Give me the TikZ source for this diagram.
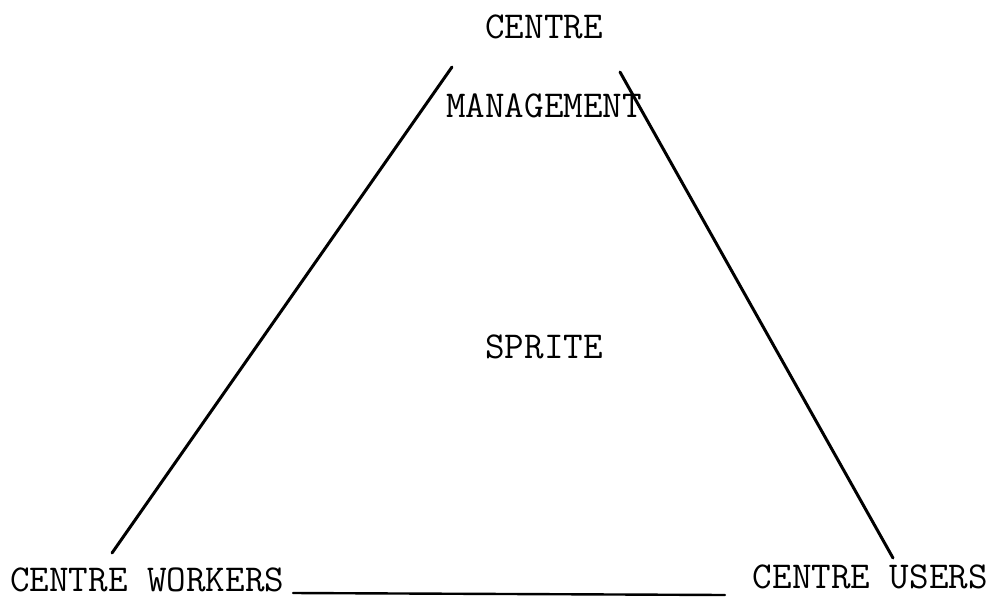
\documentclass[tikz,border=0pt]{standalone}
\usepackage{fontspec}
\begin{document}
\begin{tikzpicture}[x=1pt,y=-1pt,
  lbl/.style={font=\ttfamily\fontsize{38}{44}\selectfont, inner sep=0pt, anchor=center},
  edge/.style={line width=3pt, line cap=round}]
\useasboundingbox (0,0) rectangle (993,606);
\node[lbl] (top) at (544,27) {CENTRE};
\node[lbl] (mgmt) at (544,106) {MANAGEMENT};
\node[lbl] (sprite) at (544,347) {SPRITE};
\node[lbl, anchor=west] (workers) at (10,580) {CENTRE WORKERS};
\node[lbl, anchor=east] (users) at (988,577) {CENTRE USERS};
\coordinate (lt) at (452,67);
\coordinate (lb) at (112,553);
\coordinate (rt) at (620,72);
\coordinate (rb) at (893,558);
\coordinate (bl) at (293,593);
\coordinate (br) at (725,595);
\draw[edge] (lt) -- (lb);
\draw[edge] (rt) -- (rb);
\draw[edge, line width=2.4pt] (bl) -- (br);
\end{tikzpicture}
\end{document}
